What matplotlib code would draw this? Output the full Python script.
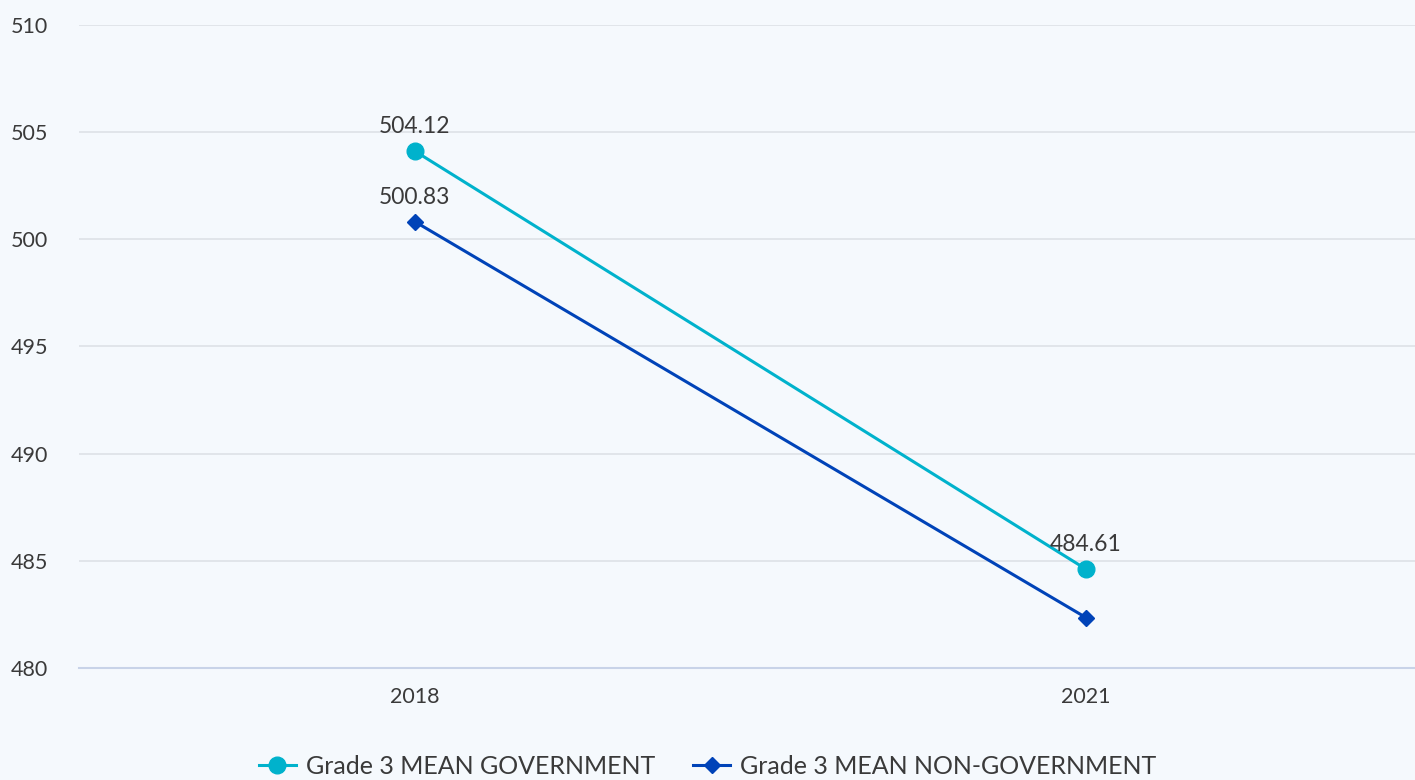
import matplotlib.pyplot as plt

# --- data --- #
years = ["2018", "2021"]
gov_vals = [504.12, 484.61]
nongov_vals = [500.83, 482.35]
gov_labels = ["504.12", "484.61"]
nongov_labels = ["500.83", ""]

plt.rcParams['font.family'] = ['Lato', 'DejaVu Sans']

bg = '#f5f9fd'
gov_col = '#00b2cc'
nongov_col = '#0043b8'
txt_col = '#3a3a3a'

fig = plt.figure(figsize=(14.15, 7.8), dpi=100, facecolor=bg)
ax = fig.add_axes([0.0558, 0.1436, 0.9442, 0.8244], facecolor=bg)

x = list(range(len(years)))
ax.plot(x, gov_vals, color=gov_col, lw=2.2, marker='o', ms=12,
        label="Grade 3 MEAN GOVERNMENT", zorder=3)
ax.plot(x, nongov_vals, color=nongov_col, lw=2.2, marker='D', ms=8.5,
        label="Grade 3 MEAN NON-GOVERNMENT", zorder=3)

for xi, v, lab in zip(x, gov_vals, gov_labels):
    ax.annotate(lab, (xi, v), xytext=(0, 10), textcoords='offset points',
                ha='center', va='bottom', fontsize=16.5, color=txt_col)
for xi, v, lab in zip(x, nongov_vals, nongov_labels):
    if lab:
        ax.annotate(lab, (xi, v), xytext=(0, 10), textcoords='offset points',
                    ha='center', va='bottom', fontsize=16.5, color=txt_col)

ax.set_xlim(-0.5, 1.49)
ax.set_ylim(480, 510)
ax.set_yticks(range(480, 511, 5))
ax.set_xticks(x)
ax.set_xticklabels(years)

ax.grid(axis='y', color='#dfe3e8', lw=1.3)
ax.set_axisbelow(True)
for s in ['top', 'right', 'left']:
    ax.spines[s].set_visible(False)
ax.spines['bottom'].set_color('#c8d3e8')
ax.spines['bottom'].set_linewidth(1.5)

ax.tick_params(axis='y', length=0, pad=22, labelsize=15.5, labelcolor=txt_col)
ax.tick_params(axis='x', length=0, pad=14, labelsize=15.5, labelcolor=txt_col)
for t in ax.get_yticklabels():
    t.set_horizontalalignment('right')

leg = fig.legend(loc='lower center', bbox_to_anchor=(0.5, -0.026), ncol=2,
                 frameon=False, fontsize=18, handlelength=1.5,
                 columnspacing=1.5, handletextpad=0.4)
for t in leg.get_texts():
    t.set_color(txt_col)

fig.savefig('out.png', dpi=100, facecolor=bg)
